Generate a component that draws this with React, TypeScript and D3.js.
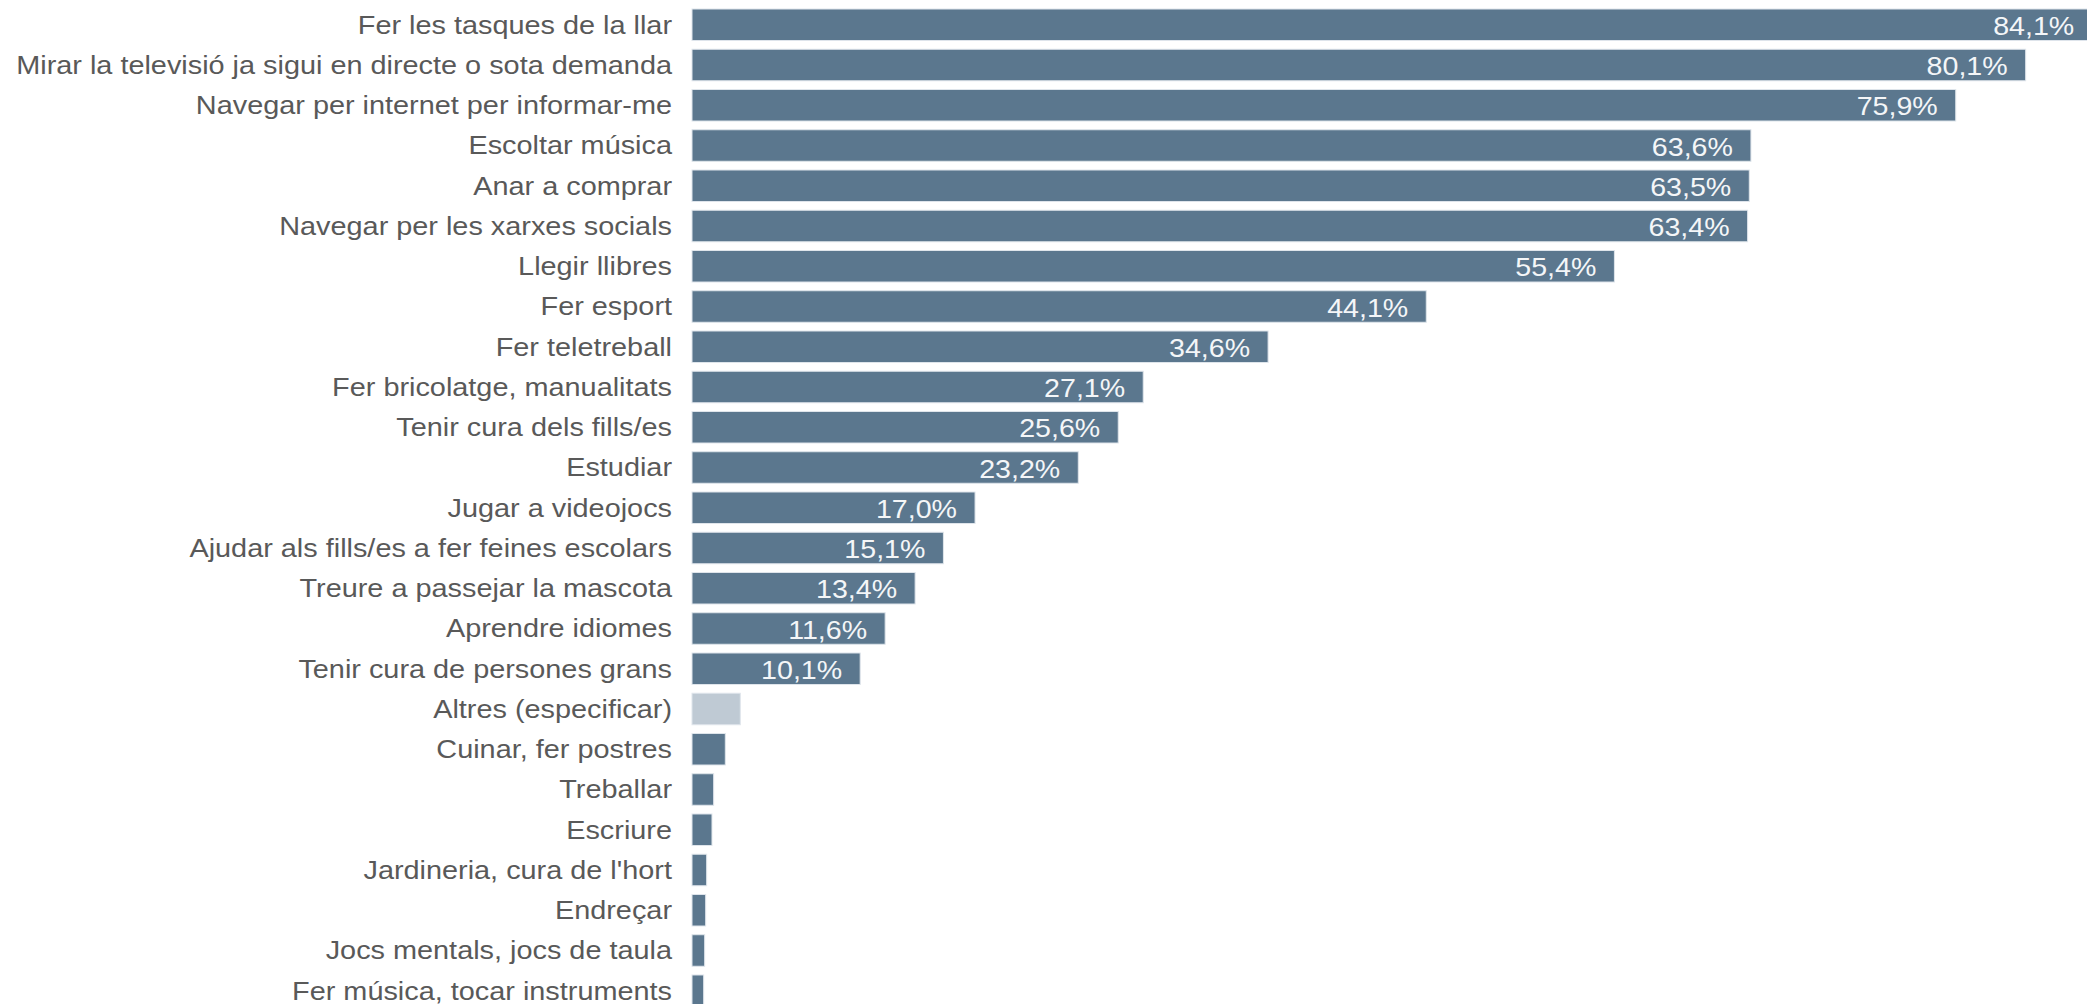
import React from "react";
import * as d3 from "d3";

const categories: string[] = [
  "Fer les tasques de la llar",
  "Mirar la televisió ja sigui en directe o sota demanda",
  "Navegar per internet per informar-me",
  "Escoltar música",
  "Anar a comprar",
  "Navegar per les xarxes socials",
  "Llegir llibres",
  "Fer esport",
  "Fer teletreball",
  "Fer bricolatge, manualitats",
  "Tenir cura dels fills/es",
  "Estudiar",
  "Jugar a videojocs",
  "Ajudar als fills/es a fer feines escolars",
  "Treure a passejar la mascota",
  "Aprendre idiomes",
  "Tenir cura de persones grans",
  "Altres (especificar)",
  "Cuinar, fer postres",
  "Treballar",
  "Escriure",
  "Jardineria, cura de l'hort",
  "Endreçar",
  "Jocs mentals, jocs de taula",
  "Fer música, tocar instruments",
];

const values: number[] = [
  84.1, 80.1, 75.9, 63.6, 63.5, 63.4, 55.4, 44.1, 34.6, 27.1, 25.6, 23.2, 17.0,
  15.1, 13.4, 11.6, 10.1, 2.9, 2.0, 1.3, 1.2, 0.88, 0.82, 0.76, 0.7,
];

const highlight: string[] = ["Altres (especificar)"];
const labelThreshold = 5;

const W = 2087;
const H = 1004;
const FONT = "'Liberation Sans', Arial, sans-serif";
const SX_LABEL = 1.11;
const SX_VALUE = 1.1;

export default function App() {
  const x = d3.scaleLinear().domain([0, 100]).range([692, 692 + 1665]);
  const y = d3
    .scaleBand<string>()
    .domain(categories)
    .range([9, 9 + 24 * 40.25 + 31.5])
    .paddingInner(0.217)
    .paddingOuter(0);
  const fmt = (v: number) => d3.format(".1f")(v).replace(".", ",") + "%";

  return (
    <svg
      width={W}
      height={H}
      style={{ position: "absolute", left: 0, top: 0, background: "#fff" }}
    >
      {categories.map((c, i) => {
        const v = values[i];
        const yy = y(c)!;
        const bw = y.bandwidth();
        const cy = yy + bw / 2;
        const isLight = highlight.includes(c);
        return (
          <g key={c}>
            <text
              transform={`translate(672,${cy}) scale(${SX_LABEL},1)`}
              textAnchor="end"
              dominantBaseline="central"
              fontFamily={FONT}
              fontSize={26}
              fill="#595959"
            >
              {c}
            </text>
            <rect
              x={x(0)}
              y={yy}
              width={x(v) - x(0)}
              height={bw}
              fill={isLight ? "#bfcad4" : "#5b778e"}
              stroke="#dfe5eb"
              strokeWidth={1}
            />
            {v >= labelThreshold && (
              <text
                transform={`translate(${x(v) - 18},${cy + 1}) scale(${SX_VALUE},1)`}
                textAnchor="end"
                dominantBaseline="central"
                fontFamily={FONT}
                fontSize={26}
                fill="#f4f6f8"
              >
                {fmt(v)}
              </text>
            )}
          </g>
        );
      })}
    </svg>
  );
}
